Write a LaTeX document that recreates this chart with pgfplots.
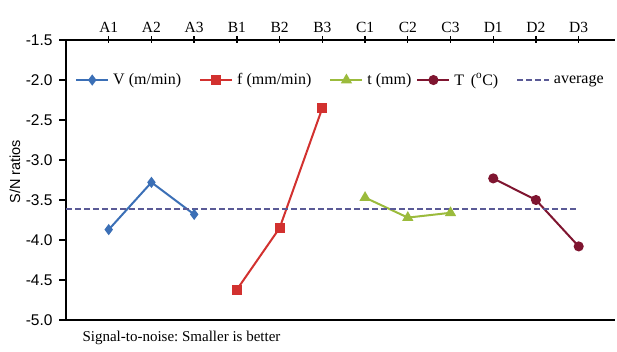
\documentclass[border=0pt]{standalone}
\usepackage{fontspec}
\setmainfont{Liberation Serif}
\newfontfamily\arial{Liberation Sans}
\usepackage{pgfplots}
\pgfplotsset{compat=1.18}
\definecolor{cV}{HTML}{3B6FB6}
\definecolor{cf}{HTML}{D2312F}
\definecolor{ct}{HTML}{9BBB3C}
\definecolor{cT}{HTML}{7F1530}
\definecolor{cav}{HTML}{5A5A96}
\begin{document}
\frenchspacing
\begin{tikzpicture}
\begin{axis}[name=ax, scale only axis, width=549pt, height=280pt,
 xmin=0, xmax=12.85, ymin=-5, ymax=-1.5,
 axis x line=box, axis y line=left, axis line style={-, line width=1.8pt, black},
 xtick={1,...,12}, xticklabels={A1,A2,A3,B1,B2,B3,C1,C2,C3,D1,D2,D3},
 xtick pos=upper, xticklabel pos=upper, xtick align=center,
 ytick={-5,-4.5,...,-1.5}, ytick align=outside, ytick pos=left,
 yticklabel style={xshift=-3pt, font=\arial\fontsize{15.5}{17}\selectfont, /pgf/number format/fixed, /pgf/number format/fixed zerofill, /pgf/number format/precision=1, /pgf/number format/assume math mode=true},
 xticklabel style={font=\fontsize{15.5}{17}\selectfont},
 major tick length=7pt, tick style={black, line width=1.4pt},
 legend style={draw=none, fill=none, at={(0.011,0.857)}, anchor=west, legend columns=5, font=\fontsize{16}{18}\selectfont, /tikz/every even column/.append style={column sep=16pt}, /tikz/every odd column/.append style={column sep=2pt}},
 legend image code/.code={\draw[mark repeat=2,mark phase=2] plot coordinates {(0pt,0pt)(16pt,0pt)(32pt,0pt)};},
 legend cell align=left,
 clip=false,
]
\addplot[cV, line width=2pt, mark=diamond*, mark size=4pt] coordinates {(1,-3.87)(2,-3.28)(3,-3.68)};
\addlegendentry{V (m/min)}
\addplot[cf, line width=2pt, mark=square*, mark size=4pt] coordinates {(4,-4.62)(5,-3.85)(6,-2.35)};
\addlegendentry{f (mm/min)}
\addplot[ct, line width=2pt, mark=triangle*, mark size=4.5pt] coordinates {(7,-3.47)(8,-3.72)(9,-3.66)};
\addlegendentry{t (mm)\kern-13pt\mbox{}}
\addplot[cT, line width=2pt, mark=*, mark size=4pt] coordinates {(10,-3.23)(11,-3.50)(12,-4.08)};
\addlegendentry{T \,(\textsuperscript{o}C)}
\addplot[cav, line width=1.6pt, dash pattern=on 6pt off 3pt] coordinates {(0,-3.61)(12,-3.61)};
\addlegendentry{average}
\node[anchor=west, font=\fontsize{15}{17}\selectfont] at ([shift={(13pt,-18pt)}]rel axis cs:0,0) {Signal-to-noise: Smaller is better};
\node[rotate=90, font=\arial\fontsize{14.5}{16}\selectfont] at ([xshift=-51pt]rel axis cs:0,0.53) {S/N ratios};
\end{axis}
\pgfresetboundingbox
\path ([shift={(-66pt,-32pt)}]ax.south west) rectangle ([shift={(2pt,40pt)}]ax.north east);
\end{tikzpicture}
\end{document}
